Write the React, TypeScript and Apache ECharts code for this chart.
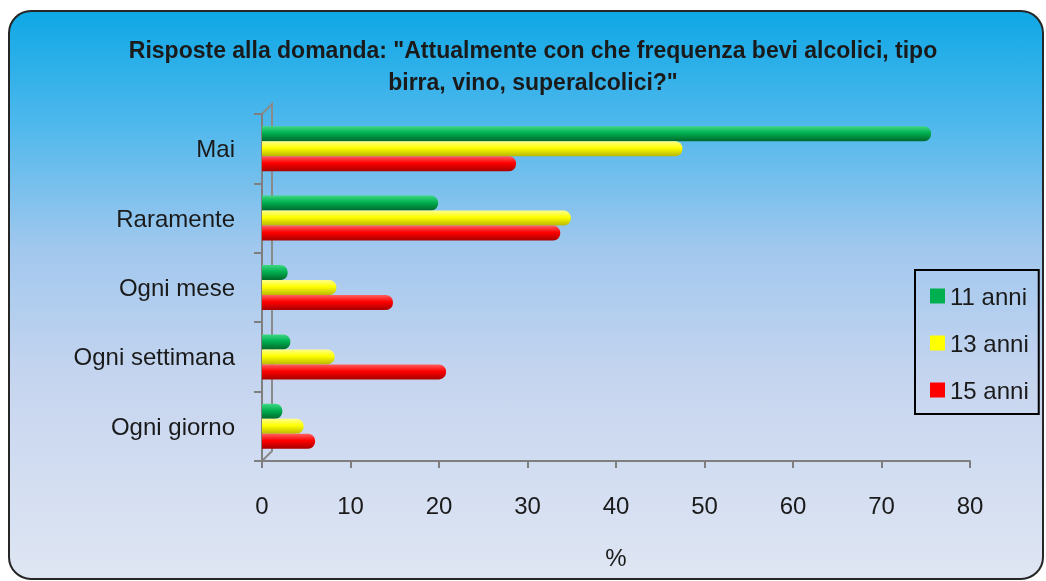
import React, { useEffect, useRef } from "react";
import * as echarts from "echarts";

const categories = ["Mai", "Raramente", "Ogni mese", "Ogni settimana", "Ogni giorno"];
const seriesNames = ["11 anni", "13 anni", "15 anni"];
const anni11 = [75.6, 19.9, 2.9, 3.2, 2.3];
const anni13 = [47.5, 34.9, 8.4, 8.2, 4.7];
const anni15 = [28.7, 33.7, 14.8, 20.8, 6.0];
const xTicks = { min: 0, max: 80, interval: 10 };
const titleLines = [
  'Risposte alla domanda: "Attualmente con che frequenza bevi alcolici, tipo',
  'birra, vino, superalcolici?"',
];

const FONT = "'Liberation Sans', Arial, sans-serif";

function grad(top: string, mid: string, bottom: string) {
  return new echarts.graphic.LinearGradient(0, 0, 0, 1, [
    { offset: 0, color: top },
    { offset: 0.45, color: mid },
    { offset: 1, color: bottom },
  ]);
}

export default function App() {
  const ref = useRef<HTMLDivElement>(null);
  useEffect(() => {
    if (!ref.current) return;
    const chart = echarts.init(ref.current, undefined, { renderer: "svg" });
    const colors = [
      { fill: grad("#3fd884", "#00b050", "#00692c"), legend: "#00b050" },
      { fill: grad("#ffff8a", "#ffff00", "#b8b800"), legend: "#ffff00" },
      { fill: grad("#ff6060", "#ff0000", "#a80000"), legend: "#ff0000" },
    ];
    const datas = [anni11, anni13, anni15];
    chart.setOption({
      animation: false,
      graphic: [
        {
          type: "rect",
          z: -10,
          shape: { x: 9, y: 11, width: 1034, height: 568, r: 22 },
          style: {
            fill: new echarts.graphic.LinearGradient(0, 0, 0, 1, [
              { offset: 0, color: "#0ea8e6" },
              { offset: 0.2, color: "#4fb8ec" },
              { offset: 0.42, color: "#a2c8ee" },
              { offset: 0.65, color: "#c6d5ef" },
              { offset: 1, color: "#dfe6f3" },
            ]),
            stroke: "#262626",
            lineWidth: 2,
          },
        },
        ...titleLines.map((t, i) => ({
          type: "text",
          x: 533,
          y: 50 + i * 32,
          style: {
            text: t,
            fill: "#1a1a1a",
            font: `bold 23px ${FONT}`,
            textAlign: "center",
            textVerticalAlign: "middle",
          },
        })),
        {
          type: "polyline",
          silent: true,
          shape: { points: [[262, 461], [272, 451], [272, 104], [262, 114]] },
          style: { stroke: "#8a8a8a", lineWidth: 2, fill: "none" },
        },
      ],
      legend: {
        orient: "vertical",
        left: 915,
        top: 270,
        padding: [14, 10, 12, 15],
        itemGap: 23,
        itemWidth: 15,
        itemHeight: 15,
        icon: "rect",
        borderColor: "#000",
        borderWidth: 2,
        textStyle: { fontSize: 24, color: "#1a1a1a", fontFamily: FONT },
        data: seriesNames.map((n, i) => ({ name: n, itemStyle: { color: colors[i].legend } })),
      },
      grid: { left: 262, width: 708, top: 114, height: 347 },
      xAxis: {
        type: "value",
        min: xTicks.min,
        max: xTicks.max,
        interval: xTicks.interval,
        name: "%",
        nameLocation: "middle",
        nameGap: 84,
        nameTextStyle: { fontSize: 24, color: "#1a1a1a", fontFamily: FONT },
        splitLine: { show: false },
        axisLine: { show: true, lineStyle: { color: "#7f7f7f", width: 2 } },
        axisTick: { show: true, length: 7, lineStyle: { color: "#7f7f7f", width: 2 } },
        axisLabel: { fontSize: 24, color: "#1a1a1a", margin: 32, fontFamily: FONT },
      },
      yAxis: {
        type: "category",
        data: categories,
        inverse: true,
        axisLine: { show: true, lineStyle: { color: "#7f7f7f", width: 2 } },
        axisTick: { show: true, inside: false, length: 8, lineStyle: { color: "#7f7f7f", width: 2 } },
        axisLabel: { fontSize: 24, color: "#1a1a1a", margin: 27, fontFamily: FONT },
      },
      series: datas.map((d, i) => ({
        type: "bar",
        name: seriesNames[i],
        data: d,
        barWidth: 15,
        barGap: "0%",
        itemStyle: { color: colors[i].fill, borderRadius: [0, 7, 7, 0] },
      })),
    });
    return () => chart.dispose();
  }, []);
  return (
    <div
      ref={ref}
      style={{ position: "fixed", left: 0, top: 0, width: 1046, height: 581 }}
    />
  );
}
